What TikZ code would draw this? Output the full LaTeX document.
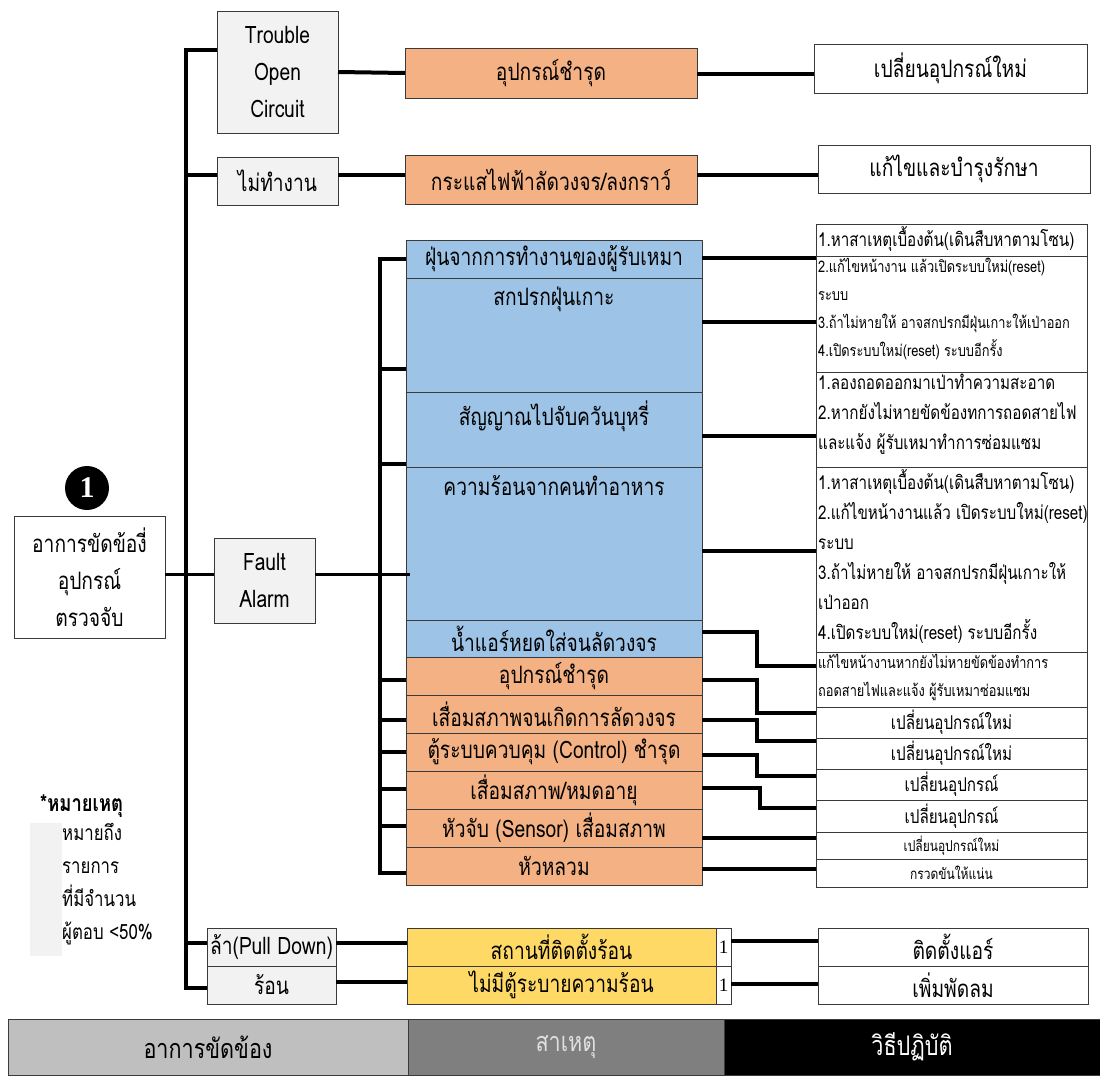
\documentclass[tikz,border=0pt]{standalone}
\usepackage{fontspec}
\setmainfont[Script=Thai, FakeStretch=0.8]{Loma}
\newfontfamily\numfont{Liberation Serif}
\usetikzlibrary{calc}

\definecolor{boxgray}{HTML}{F2F2F2}
\definecolor{orng}{HTML}{F4B183}
\definecolor{blu}{HTML}{9DC3E6}
\definecolor{yel}{HTML}{FFD966}
\definecolor{edge}{HTML}{3A3A3A}
\definecolor{legA}{HTML}{BFBFBF}
\definecolor{legB}{HTML}{7F7F7F}

\newcommand\fsz[2]{\fontsize{#1}{#2}\selectfont}
% \cellbox{name}{x1}{y1}{x2}{y2}{style}{text}
\newcommand\cellbox[7]{\node[#6, minimum width={(#4)-(#2)}, minimum height={(#5)-(#3)}] (#1) at (#2,#3) {#7};}

\tikzset{
  cell/.style={draw=edge, line width=1pt, inner sep=0pt, outer sep=0pt, anchor=north west, align=center, font=\fsz{24}{37}},
  graycell/.style={cell, fill=boxgray},
  orcell/.style={cell, fill=orng},
  blcell/.style={cell, fill=blu},
  yecell/.style={cell, fill=yel},
  whcell/.style={cell, fill=white},
  small/.style={font=\fsz{19}{30}},
  tiny/.style={font=\fsz{16}{28}},
  note/.style={anchor=north west, align=left, inner sep=2pt},
  link/.style={line width=4pt, line join=miter},
  thinlink/.style={line width=3pt},
}

\begin{document}
\begin{tikzpicture}[x=1pt, y=-1pt]
\useasboundingbox (0,0) rectangle (1100,1079);
\fill[white] (0,0) rectangle (1100,1079);

% ---------- symptom column ----------
\cellbox{main}{14}{516}{165}{638}{whcell}{อาการขัดข้องี่\\อุปกรณ์\\ตรวจจับ}
\node[circle, fill=black, text=white, minimum size=44pt, inner sep=0pt, font=\numfont\bfseries\fsz{30}{30}] (num) at (87,488) {1};

\cellbox{toc}{217}{11}{338}{133}{graycell}{Trouble\\Open\\Circuit}
\cellbox{nw}{217}{157}{338}{205}{graycell}{ไม่ทำงาน}
\cellbox{fa}{214}{538}{315}{623}{graycell}{Fault\\Alarm}
\cellbox{pd}{207}{928}{336}{966}{graycell}{ล้า(Pull Down)}
\cellbox{hot}{207}{966}{336}{1004}{graycell}{ร้อน}

% ---------- cause column ----------
\cellbox{o1}{405}{48}{697}{98}{orcell}{อุปกรณ์ชำรุด}
\cellbox{o2}{405}{155}{697}{204}{orcell}{กระแสไฟฟ้าลัดวงจร/ลงกราว์}

\cellbox{b1}{406}{240}{702}{278}{blcell}{ฝุ่นจากการทำงานของผู้รับเหมา}
\cellbox{b2}{406}{278}{702}{392}{blcell}{}
\cellbox{b3}{406}{392}{702}{467}{blcell}{}
\cellbox{b4}{406}{467}{702}{620}{blcell}{}
\cellbox{b5}{406}{620}{702}{657}{blcell}{น้ำแอร์หยดใส่จนลัดวงจร}
\node[anchor=north, font=\fsz{24}{37}] at ($(b2.north)+(0,5)$) {สกปรกฝุ่นเกาะ};
\node[anchor=north, font=\fsz{24}{37}] at ($(b3.north)+(0,5)$) {สัญญาณไปจับควันบุหรี่};
\node[anchor=north, font=\fsz{24}{37}] at ($(b4.north)+(0,5)$) {ความร้อนจากคนทำอาหาร};

\cellbox{c1}{406}{657}{702}{695}{orcell}{อุปกรณ์ชำรุด}
\cellbox{c2}{406}{695}{702}{733}{orcell}{เสื่อมสภาพจนเกิดการลัดวงจร}
\cellbox{c3}{406}{733}{702}{771}{orcell}{ตู้ระบบควบคุม (Control) ชำรุด}
\cellbox{c4}{406}{771}{702}{809}{orcell}{เสื่อมสภาพ/หมดอายุ}
\cellbox{c5}{406}{809}{702}{847}{orcell}{หัวจับ (Sensor) เสื่อมสภาพ}
\cellbox{c6}{406}{847}{702}{885}{orcell}{หัวหลวม}

\cellbox{y1}{407}{928}{716}{966}{yecell}{สถานที่ติดตั้งร้อน}
\cellbox{n1}{716}{928}{731}{966}{whcell, font=\numfont\fsz{19}{20}}{1}
\cellbox{y2}{407}{966}{716}{1004}{yecell}{ไม่มีตู้ระบายความร้อน}
\cellbox{n2}{716}{966}{731}{1004}{whcell, font=\numfont\fsz{19}{20}}{1}

% ---------- action column ----------
\cellbox{a1}{814}{44}{1087}{93}{whcell}{เปลี่ยนอุปกรณ์ใหม่}
\cellbox{a2}{818}{145}{1090}{193}{whcell}{แก้ไขและบำรุงรักษา}

\cellbox{r1}{816}{224}{1087}{256}{whcell}{}
\cellbox{r2}{816}{256}{1087}{372}{whcell}{}
\cellbox{r3}{816}{372}{1087}{467}{whcell}{}
\cellbox{r4}{816}{467}{1087}{652}{whcell}{}
\cellbox{r5}{816}{652}{1087}{707}{whcell}{}
\cellbox{r6}{816}{707}{1087}{738}{whcell, small}{เปลี่ยนอุปกรณ์ใหม่}
\cellbox{r7}{816}{738}{1087}{769}{whcell, small}{เปลี่ยนอุปกรณ์ใหม่}
\cellbox{r8}{816}{769}{1087}{800}{whcell, small}{เปลี่ยนอุปกรณ์}
\cellbox{r9}{816}{800}{1087}{832}{whcell, small}{เปลี่ยนอุปกรณ์}
\cellbox{r10}{816}{832}{1087}{859}{whcell, font=\fsz{15}{16}}{เปลี่ยนอุปกรณ์ใหม่}
\cellbox{r11}{816}{859}{1087}{887}{whcell, font=\fsz{15}{16}}{กรวดขันให้แน่น}

\node[note, small] at (r1.north west) {1.หาสาเหตุเบื้องต้น(เดินสืบหาตามโซน)};
\node[note, tiny] at (r2.north west) {2.แก้ไขหน้างาน แล้วเปิดระบบใหม่(reset)\\ระบบ\\3.ถ้าไม่หายให้ อาจสกปรกมีฝุ่นเกาะให้เป่าออก\\4.เปิดระบบใหม่(reset) ระบบอีกรั้ง};
\node[note, small] at (r3.north west) {1.ลองถอดออกมาเป่าทำความสะอาด\\2.หากยังไม่หายขัดข้องทการถอดสายไฟ\\และแจ้ง ผู้รับเหมาทำการซ่อมแซม};
\node[note, small] at (r4.north west) {1.หาสาเหตุเบื้องต้น(เดินสืบหาตามโซน)\\2.แก้ไขหน้างานแล้ว เปิดระบบใหม่(reset)\\ระบบ\\3.ถ้าไม่หายให้ อาจสกปรกมีฝุ่นเกาะให้\\เป่าออก\\4.เปิดระบบใหม่(reset) ระบบอีกรั้ง};
\node[note, tiny] at (r5.north west) {แก้ไขหน้างานหากยังไม่หายขัดข้องทำการ\\ถอดสายไฟและแจ้ง ผู้รับเหมาซ่อมแซม};

\cellbox{s1}{818}{928}{1088}{966}{whcell}{ติดตั้งแอร์}
\cellbox{s2}{818}{966}{1088}{1004}{whcell}{เพิ่มพัดลม}

% ---------- footnote ----------
\fill[boxgray] (30,823) rectangle (62,956);
\node[anchor=west, inner sep=0pt, font=\bfseries\fsz{23}{24}] (nt) at (40,806) {*หมายเหตุ};
\node[anchor=north west, align=left, inner sep=0pt, font=\fsz{21}{33}] (ntx) at (62,823) {หมายถึง\\รายการ\\ที่มีจำนวน\\ผู้ตอบ <50\%};

% ---------- legend bar ----------
\cellbox{L1}{8}{1019}{408}{1075}{cell, fill=legA, font=\fsz{27}{30}}{อาการขัดข้อง}
\cellbox{L2}{408}{1019}{724}{1075}{cell, fill=legB, text=white!88!black, font=\fsz{27}{30}}{สาเหตุ}
\cellbox{L3}{724}{1019}{1100}{1075}{cell, fill=black, text=white, font=\fsz{27}{30}}{วิธีปฏิบัติ}

% ---------- connectors: symptom tree ----------
\draw[link] (toc.west |- 0,50) -- (186,50) -- (186,988) -- (hot.west |- 0,988);
\draw[link] (186,175) -- (nw.west |- 0,175);
\draw[link] (186,943) -- (pd.west |- 0,943);
\draw[thinlink] (main.east |- 0,574) -- (fa.west |- 0,574);
\draw[thinlink] (fa.east |- 0,574) -- (b4.west |- 0,574) -- ++(4,0);

% ---------- connectors: cause tree ----------
\draw[link] (b1.west |- 0,259) -- (380,259) -- (380,873) -- (c6.west |- 0,873);
\foreach \yy in {369,464,680,720,752,789,826}
  \draw[link] (380,\yy) -- (b1.west |- 0,\yy);

% ---------- connectors: cause to action ----------
\draw[link] (toc.east) -- (o1.west);
\draw[link] (o1.east |- 0,74) -- (a1.west |- 0,74);
\draw[link] (nw.east |- 0,175) -- (o2.west |- 0,175);
\draw[link] (o2.east |- 0,175) -- (a2.west |- 0,175);

\draw[link] (b1.east |- 0,258) -- (r1.west |- 0,258);
\draw[link] (b2.east |- 0,322) -- (r2.west |- 0,322);
\draw[link] (b3.east |- 0,436) -- (r3.west |- 0,436);
\draw[link] (b4.east |- 0,551) -- (r4.west |- 0,551);
\draw[link] (b5.east |- 0,632) -- (757,632) -- (757,666) -- (r5.west |- 0,666);
\draw[link] (c1.east |- 0,680) -- (757,680) -- (757,713) -- (r6.west |- 0,713);
\draw[link] (c2.east |- 0,720) -- (757,720) -- (757,741) -- (r7.west |- 0,741);
\draw[link] (c3.east |- 0,755) -- (757,755) -- (757,776) -- (r8.west |- 0,776);
\draw[link] (c4.east |- 0,788) -- (760,788) -- (760,808) -- (r9.west |- 0,808);
\draw[link] (c5.east |- 0,838) -- (r10.west |- 0,838);
\draw[link] (c6.east |- 0,869) -- (r11.west |- 0,869);

\draw[link] (pd.east |- 0,943) -- (y1.west |- 0,943);
\draw[link] (hot.east |- 0,982) -- (y2.west |- 0,982);
\draw[link] (n1.east |- 0,941) -- (s1.west |- 0,941);
\draw[link] (n2.east |- 0,984) -- (s2.west |- 0,984);
\end{tikzpicture}
\end{document}
